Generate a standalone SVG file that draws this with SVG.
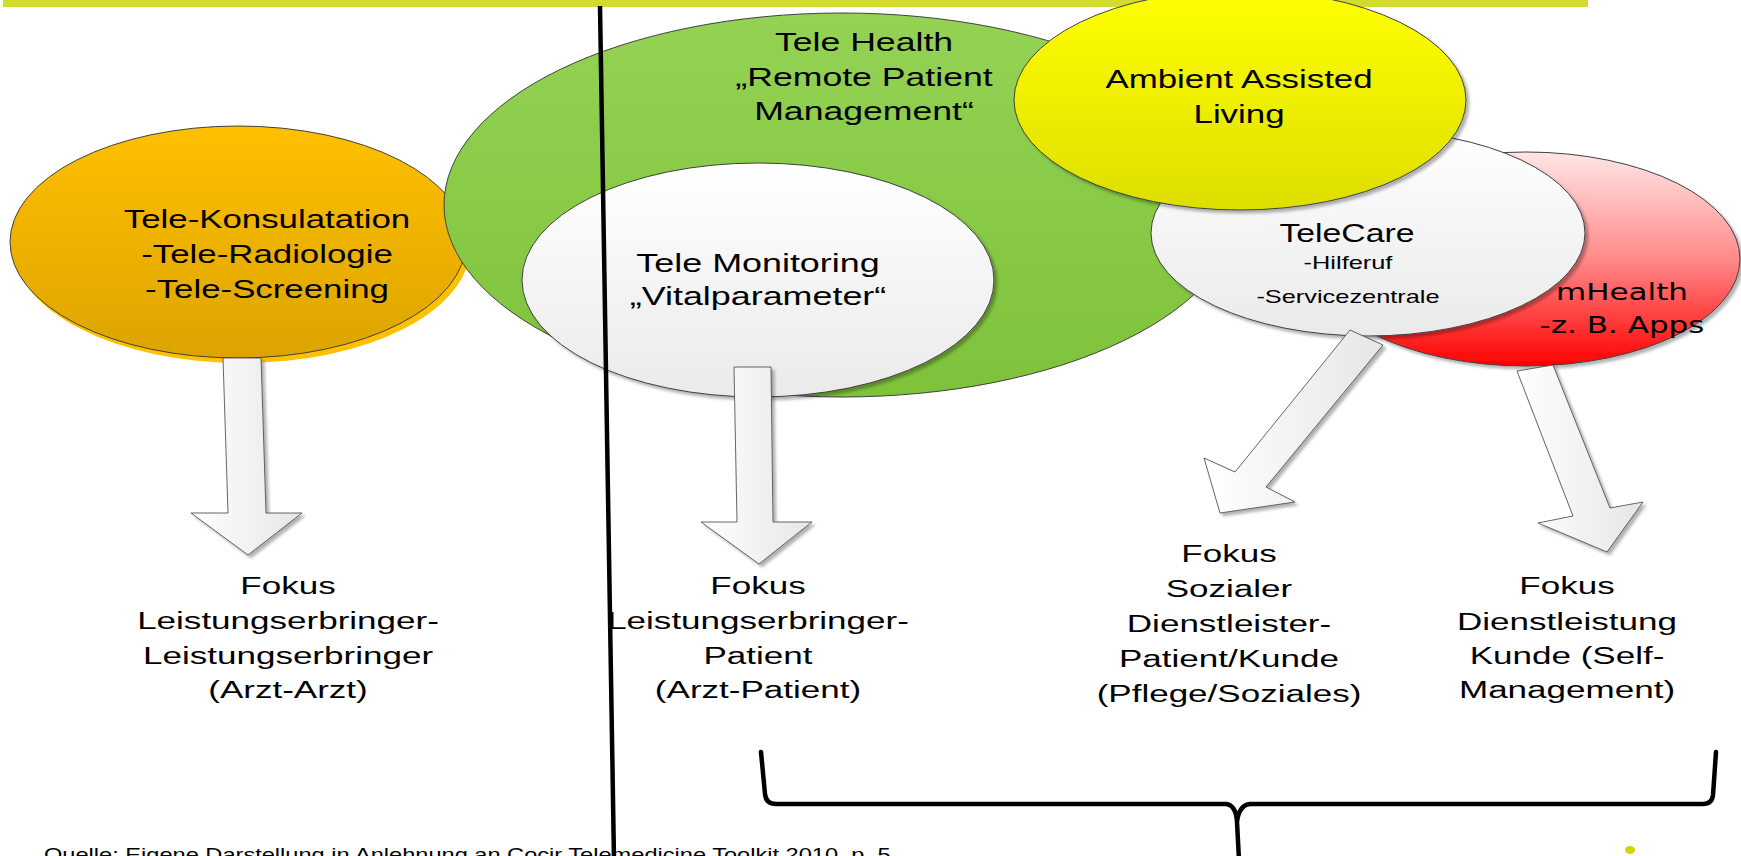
<svg xmlns="http://www.w3.org/2000/svg" width="1741" height="856" viewBox="0 0 1741 856">
<defs>
<linearGradient id="gOrange" x1="0" y1="0" x2="0" y2="1"><stop offset="0" stop-color="#FFC000"/><stop offset="1" stop-color="#DCA400"/></linearGradient>
<linearGradient id="gGreen" x1="0" y1="0" x2="0" y2="1"><stop offset="0" stop-color="#94D254"/><stop offset="1" stop-color="#7EC23A"/></linearGradient>
<linearGradient id="gWhite" x1="0" y1="0" x2="0" y2="1"><stop offset="0" stop-color="#FFFFFF"/><stop offset="1" stop-color="#EAEAEA"/></linearGradient>
<linearGradient id="gYellow" x1="0" y1="0" x2="0" y2="1"><stop offset="0" stop-color="#FFFF00"/><stop offset="1" stop-color="#DEDE00"/></linearGradient>
<linearGradient id="gRed" x1="0" y1="0" x2="0" y2="1"><stop offset="0" stop-color="#FFE6E6"/><stop offset="0.5" stop-color="#FF8A8A"/><stop offset="1" stop-color="#FF0000"/></linearGradient>
<linearGradient id="gArrow" x1="0" y1="0" x2="1" y2="0"><stop offset="0" stop-color="#FFFFFF"/><stop offset="1" stop-color="#E6E6E6"/></linearGradient>
<filter id="sh" x="-10%" y="-10%" width="130%" height="130%"><feDropShadow dx="3" dy="3" stdDeviation="1.5" flood-color="#000" flood-opacity="0.3"/></filter>
</defs>
<style>
.node{stroke:#404040;stroke-width:1}
.lbl{font-family:"Liberation Sans",Arial,sans-serif;font-size:26px;fill:#000;text-anchor:middle}
.sm{font-size:17.5px}
.dj{font-family:"DejaVu Sans",Verdana,sans-serif;font-size:23.5px}
.fok{font-size:24.5px}
.arrow{fill:url(#gArrow);stroke:#404040;stroke-width:0.8;filter:url(#sh)}
.ink{fill:none;stroke:#000;stroke-linecap:round;stroke-linejoin:round}
</style>
<rect id="topbar" x="3" y="0" width="1585" height="7" fill="#D2DB2F"/>

<g id="node-telekonsultation">
<ellipse cx="242" cy="247" rx="228" ry="116" fill="#FFC000"/>
<ellipse class="node" cx="238" cy="242" rx="228" ry="116" fill="url(#gOrange)"/>
<text class="lbl" transform="translate(267 0) scale(1.34 1)"><tspan x="0" y="228">Tele-Konsulatation</tspan><tspan x="0" y="263">-Tele-Radiologie</tspan><tspan x="0" y="298">-Tele-Screening</tspan></text>
</g>

<g id="node-telehealth">
<ellipse class="node" cx="842" cy="205" rx="398" ry="192" fill="url(#gGreen)"/>
<text class="lbl" transform="translate(864 0) scale(1.37 1)"><tspan x="0" y="51">Tele Health</tspan><tspan x="0" y="86">„Remote Patient</tspan><tspan x="0" y="120">Management“</tspan></text>
</g>

<g id="node-telemonitoring">
<ellipse class="node" cx="758" cy="280" rx="236" ry="117" fill="url(#gWhite)" filter="url(#sh)"/>
<text class="lbl" transform="translate(758 0) scale(1.38 1)"><tspan x="0" y="272">Tele Monitoring</tspan><tspan x="0" y="305">„Vitalparameter“</tspan></text>
</g>

<g id="node-mhealth">
<ellipse class="node" cx="1526" cy="259" rx="214" ry="107" fill="url(#gRed)" filter="url(#sh)"/>
<text class="lbl dj" transform="translate(1622 0) scale(1.32 1)"><tspan x="0" y="300">mHealth</tspan><tspan x="0" y="333">-z. B. Apps</tspan></text>
</g>

<g id="node-telecare">
<ellipse class="node" cx="1368" cy="233" rx="217" ry="103" fill="url(#gWhite)" filter="url(#sh)"/>
<text class="lbl" transform="translate(1347 0) scale(1.3 1)"><tspan x="0" y="242">TeleCare</tspan></text>
<text class="lbl sm" transform="translate(1348 0) scale(1.45 1)"><tspan x="0" y="269">-Hilferuf</tspan><tspan x="0" y="303">-Servicezentrale</tspan></text>
</g>

<g id="node-aal">
<ellipse class="node" cx="1240" cy="100" rx="226" ry="110" fill="url(#gYellow)" filter="url(#sh)"/>
<text class="lbl" transform="translate(1239 0) scale(1.34 1)"><tspan x="0" y="88">Ambient Assisted</tspan><tspan x="0" y="123">Living</tspan></text>
</g>

<g id="connectors">
<polygon class="arrow" points="223,358 261,358 266,513 302,513 248,555 191,513 228,513"/>
<polygon class="arrow" points="734,367 771,367 773,522 812,522 759,564 701,522 737,522"/>
<polygon class="arrow" points="1350,330 1383,345 1266,487 1295,502 1220,513 1204,458 1235,472"/>
<polygon class="arrow" points="1517,371 1553,365 1610,508 1643,502 1607,552 1538,523 1573,516"/>
</g>

<g id="focus-arzt-arzt">
<text class="lbl fok" transform="translate(288 0) scale(1.43 1)"><tspan x="0" y="594">Fokus</tspan><tspan x="0" y="629">Leistungserbringer-</tspan><tspan x="0" y="664">Leistungserbringer</tspan><tspan x="0" y="698">(Arzt-Arzt)</tspan></text>
</g>
<g id="focus-arzt-patient">
<text class="lbl fok" transform="translate(758 0) scale(1.43 1)"><tspan x="0" y="594">Fokus</tspan><tspan x="0" y="629">Leistungserbringer-</tspan><tspan x="0" y="664">Patient</tspan><tspan x="0" y="698">(Arzt-Patient)</tspan></text>
</g>
<g id="focus-sozial">
<text class="lbl fok" transform="translate(1229 0) scale(1.43 1)"><tspan x="0" y="562">Fokus</tspan><tspan x="0" y="597">Sozialer</tspan><tspan x="0" y="632">Dienstleister-</tspan><tspan x="0" y="667">Patient/Kunde</tspan><tspan x="0" y="702">(Pflege/Soziales)</tspan></text>
</g>
<g id="focus-dienstleistung">
<text class="lbl fok" transform="translate(1567 0) scale(1.43 1)"><tspan x="0" y="594">Fokus</tspan><tspan x="0" y="630">Dienstleistung</tspan><tspan x="0" y="664">Kunde (Self-</tspan><tspan x="0" y="698">Management)</tspan></text>
</g>

<g id="brace">
<path class="ink" stroke-width="4.5" d="M761 752 L765 794 Q766 804 776 804 L1226 804 Q1236 805 1237 822 L1239 860 M1237 822 Q1239 805 1250 804 L1703 804 Q1712 804 1713 795 L1716 752"/>
</g>

<text class="lbl sm" style="text-anchor:start" transform="translate(44 0) scale(1.35 1)" x="0" y="861">Quelle: Eigene Darstellung in Anlehnung an Cocir Telemedicine Toolkit 2010, p. 5</text>

<line id="divider" x1="600" y1="6" x2="614" y2="860" stroke="#000" stroke-width="4.5"/>
<ellipse id="dot" cx="1630" cy="850" rx="5" ry="4" fill="#CCD600"/>
</svg>
